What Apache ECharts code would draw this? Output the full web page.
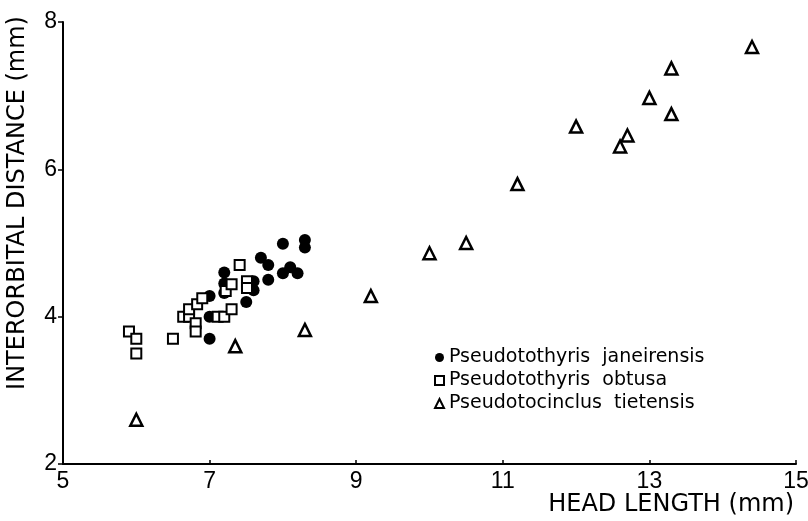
<!DOCTYPE html>
<html>
<head>
<meta charset="utf-8">
<script src="https://cdn.jsdelivr.net/npm/echarts@6/dist/echarts.min.js"></script>
<style>
  html, body { margin: 0; padding: 0; background: #fff; }
  #main { width: 808px; height: 521px; }
</style>
</head>
<body>
<div id="main"></div>
<script>
// head length (mm), interorbital distance (mm)
const janeirensis = [
  [7.0, 3.7], [7.0, 4.0], [7.0, 4.28], [7.2, 4.6], [7.2, 4.45], [7.2, 4.32],
  [7.5, 4.2], [7.6, 4.48], [7.6, 4.36], [7.7, 4.8], [7.8, 4.7], [7.8, 4.5],
  [8.0, 4.99], [8.0, 4.59], [8.1, 4.67], [8.2, 4.59], [8.3, 5.04], [8.3, 4.94]
]
const obtusa = [
  [5.9, 3.8], [6.0, 3.7], [6.0, 3.5], [6.5, 3.7], [6.64, 4.0], [6.72, 4.0],
  [6.72, 4.1], [6.81, 3.91], [6.81, 3.8], [6.83, 4.17], [6.9, 4.25], [7.11, 4.0],
  [7.2, 4.0], [7.3, 4.1], [7.22, 4.35], [7.3, 4.44], [7.41, 4.7], [7.51, 4.48],
  [7.51, 4.39]
]
const tietensis = [
  [6.0, 2.6], [7.35, 3.6], [8.3, 3.82], [9.2, 4.28], [10.0, 4.86], [10.5, 5.0],
  [11.2, 5.8], [12.0, 6.58], [12.6, 6.31], [12.7, 6.46], [13.0, 6.97],
  [13.3, 7.37], [13.3, 6.75], [14.4, 7.66]
]
const xTicks = [5, 7, 9, 11, 13, 15]
const yTicks = [2, 4, 6, 8]
const seriesNames = ['Pseudotothyris  janeirensis', 'Pseudotothyris  obtusa', 'Pseudotocinclus  tietensis']

const myChart = echarts.init(document.getElementById('main'))
const font = 'Liberation Sans, Arial, sans-serif'
const nameFont = 'DejaVu Sans, sans-serif'

const option = {
  backgroundColor: '#fff',
  animation: false,
  grid: {
    left: 63,
    right: 12,
    top: 22,
    bottom: 57,
    containLabel: false,
    outerBoundsMode: 'none'
  },
  legend: {
    orient: 'vertical',
    left: 429,
    top: 343,
    itemWidth: 9,
    itemHeight: 9,
    itemGap: 4,
    textStyle: {
      fontFamily: nameFont,
      fontSize: 19,
      color: '#000'
    },
    data: seriesNames
  },
  xAxis: {
    type: 'value',
    min: xTicks[0],
    max: xTicks[xTicks.length - 1],
    interval: 2,
    name: 'HEAD LENGTH (mm)',
    nameLocation: 'end',
    nameGap: -2,
    nameTextStyle: {
      fontFamily: nameFont,
      fontSize: 24,
      color: '#000',
      align: 'right',
      verticalAlign: 'top',
      padding: [29, 0, 0, 0]
    },
    axisLine: { lineStyle: { color: '#000', width: 2 } },
    axisTick: { inside: true, length: 4, lineStyle: { color: '#000', width: 1.5 } },
    axisLabel: { fontFamily: font, fontSize: 23, color: '#000', margin: 6 },
    splitLine: { show: false }
  },
  yAxis: {
    type: 'value',
    min: yTicks[0],
    max: yTicks[yTicks.length - 1],
    interval: 2,
    name: 'INTERORBITAL DISTANCE (mm)',
    nameLocation: 'middle',
    nameGap: 33,
    nameTextStyle: {
      fontFamily: nameFont,
      fontSize: 24,
      color: '#000',
      padding: [0, 0, 0, 80]
    },
    axisLine: { lineStyle: { color: '#000', width: 2 } },
    axisTick: { length: 5, lineStyle: { color: '#000', width: 1.5 } },
    axisLabel: { fontFamily: font, fontSize: 23, color: '#000', margin: 6 },
    splitLine: { show: false }
  },
  series: [
    {
      name: seriesNames[0],
      type: 'scatter',
      symbol: 'circle',
      symbolSize: 12,
      itemStyle: { color: '#000', opacity: 1 },
      data: janeirensis
    },
    {
      name: seriesNames[1],
      type: 'scatter',
      symbol: 'rect',
      symbolSize: 10,
      itemStyle: { color: '#fff', borderColor: '#000', borderWidth: 2, opacity: 1 },
      data: obtusa
    },
    {
      name: seriesNames[2],
      type: 'scatter',
      symbol: 'triangle',
      symbolSize: 12,
      itemStyle: { color: '#fff', borderColor: '#000', borderWidth: 2.5, opacity: 1 },
      data: tietensis
    }
  ]
}
myChart.setOption(option)
window.addEventListener('resize', function() {
  myChart.resize()
})
</script>
</body>
</html>
